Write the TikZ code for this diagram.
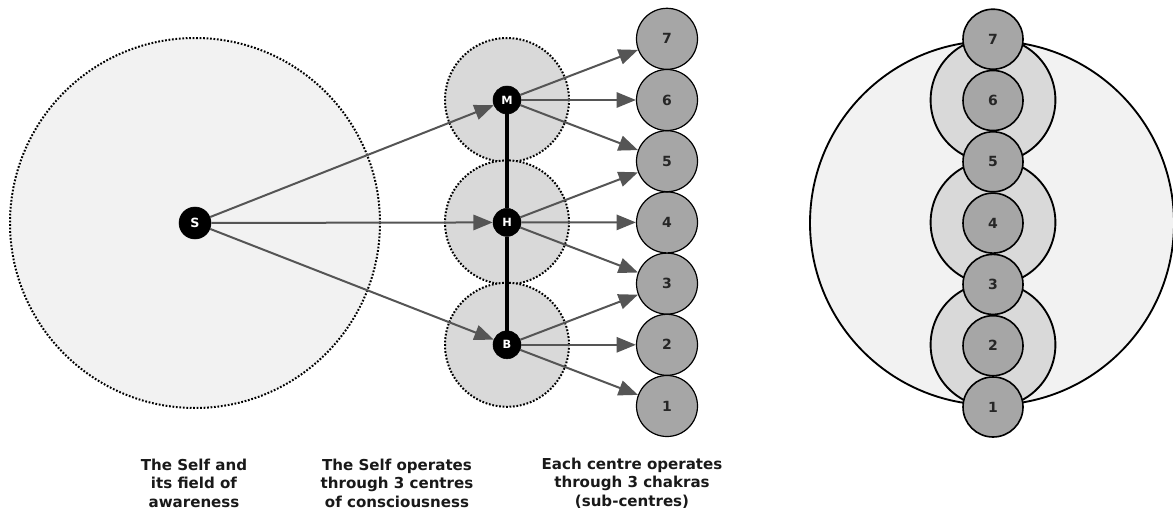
\documentclass[tikz,border=0pt]{standalone}
\usepackage{fontspec}
\setmainfont{DejaVu Sans}
\usetikzlibrary{arrows.meta,positioning}

\definecolor{fieldfill}{RGB}{242,242,242}
\definecolor{centrefill}{RGB}{217,217,217}
\definecolor{chakrafill}{RGB}{166,166,166}
\definecolor{flowgray}{RGB}{85,85,85}

\tikzset{
  field/.style={draw=black,line width=1.5pt,dash pattern=on 1.3pt off 1.3pt,fill=fieldfill},
  centrefield/.style={field,fill=centrefill},
  ring/.style={draw=black,line width=1.4pt},
  core/.style={circle,draw=black,fill=black,text=white,inner sep=0pt,minimum size=21pt,
    font=\bfseries\fontsize{8.5}{8.5}\selectfont},
  selfcore/.style={core,minimum size=24pt,font=\bfseries\fontsize{9.5}{9.5}\selectfont},
  chakra/.style={circle,draw=black,line width=0.9pt,fill=chakrafill,text=black!85,inner sep=0pt,
    minimum size=45.75pt,font=\bfseries\fontsize{10.5}{10.5}\selectfont},
  flow/.style={draw=flowgray,line width=1.5pt,-{Triangle[length=14.5pt,width=11.5pt]}},
  caption/.style={align=center,text=black!90,font=\bfseries\fontsize{11.3}{13.9}\selectfont}
}

\begin{document}
\begin{tikzpicture}[x=0.75pt,y=-0.75pt]
  \useasboundingbox (0,0) rectangle (1173,510);

  % fields of awareness
  \draw[field] (195,223) circle[radius=138.75pt];
  \foreach \y in {100,222.4,344.8}
    \draw[centrefield] (507,\y) circle[radius=46.5pt];

  % the Self and its 3 centres
  \node[selfcore] (s) at (195,223) {S};
  \node[core] (m) at (507,100) {M};
  \node[core] (h) at (507,222.4) {H};
  \node[core] (b) at (507,344.8) {B};
  \draw[line width=3pt] (m) -- (h) -- (b);

  % chakras
  \foreach \k in {1,...,7}
    \node[chakra] (c\k) at (667,{406-(\k-1)*61.2}) {\k};

  \foreach \dst in {m,h,b}
    \draw[flow] (s) -- (\dst);
  \foreach \src/\k in {m/7,m/6,m/5,h/5,h/4,h/3,b/3,b/2,b/1}
    \draw[flow] (\src) -- (c\k);

  % captions
  \node[caption] (capself) at (194,483) {The Self and\\its field of\\awareness};
  \node[caption] (capcentres) at (397,483) {The Self operates\\through 3 centres\\of consciousness};
  \node[caption] (capchakras) at (632,483) {Each centre operates\\through 3 chakras\\(sub-centres)};

  % nested view
  \draw[ring,fill=fieldfill] (992,223) circle[radius=136.5pt];
  \foreach \y in {100,222.4,344.8}
    \draw[ring,fill=centrefill] (993,\y) circle[radius=46.8pt];
  \foreach \k in {1,...,7}
    \node[chakra,line width=1.2pt,minimum size=45pt] (r\k) at (993,{407-(\k-1)*61.3}) {\k};
\end{tikzpicture}
\end{document}
